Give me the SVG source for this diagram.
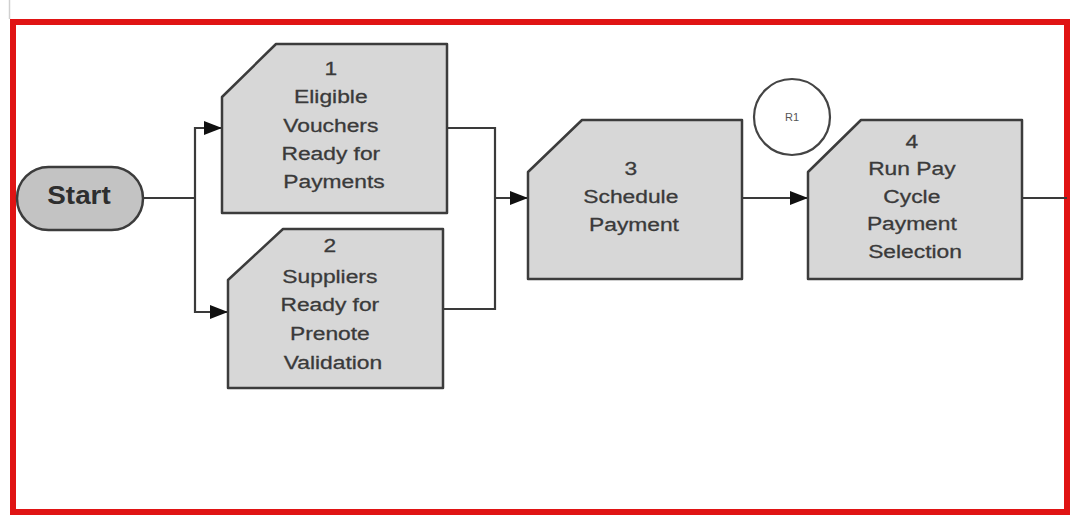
<svg xmlns="http://www.w3.org/2000/svg" width="1070" height="516" viewBox="0 0 1070 516">
  <defs>
    <marker id="arrow" viewBox="0 0 18 14" refX="18" refY="7" markerWidth="18" markerHeight="14" markerUnits="userSpaceOnUse" orient="auto">
      <path d="M0,0 L18,7 L0,14 Z" fill="#111"/>
    </marker>
  </defs>
  <style>
    .frame { fill: #ffffff; stroke: #e01414; stroke-width: 6; }
    .step { fill: #d7d7d7; stroke: #3c3c3c; stroke-width: 2.5; stroke-linejoin: round; }
    .term { fill: #c3c3c3; stroke: #3c3c3c; stroke-width: 2.5; }
    .ref { fill: #ffffff; stroke: #444; stroke-width: 2.2; }
    .label { font-family: "Liberation Sans", Arial, sans-serif; font-size: 19px; fill: #3a3a3a; text-anchor: middle; stroke: #3a3a3a; stroke-width: 0.3; }
    .start { font-family: "Liberation Sans", Arial, sans-serif; font-size: 26px; font-weight: bold; fill: #2e2e2e; text-anchor: middle; }
    .small { font-family: "Liberation Sans", Arial, sans-serif; font-size: 11px; fill: #555; text-anchor: middle; }
    .wire { fill: none; stroke: #3a3a3a; stroke-width: 2.2; }
  </style>

  <rect width="1070" height="516" fill="#ffffff"/>
  <line x1="9.5" y1="0" x2="9.5" y2="19" stroke="#d0d0d0" stroke-width="1.5"/>
  <rect class="frame" x="13" y="22" width="1054" height="490"/>

  <g id="connectors">
    <path class="wire" d="M143,198 H195"/>
    <path class="wire" d="M195,198 V128 H222" marker-end="url(#arrow)"/>
    <path class="wire" d="M195,198 V312 H228" marker-end="url(#arrow)"/>
    <path class="wire" d="M447,128 H495 V309 H443"/>
    <path class="wire" d="M495,198 H528" marker-end="url(#arrow)"/>
    <path class="wire" d="M742,198 H808" marker-end="url(#arrow)"/>
    <path class="wire" d="M1022,198 H1067"/>
  </g>

  <g id="start">
    <rect class="term" x="17" y="167" width="126" height="63" rx="31.5" ry="31.5"/>
    <text class="start" transform="translate(79,0) scale(1.07,1)" x="0" y="204">Start</text>
  </g>

  <g id="step1">
    <path class="step" d="M222,97 L276,44 H447 V213 H222 Z"/>
    <text class="label" transform="translate(334,0) scale(1.2,1)">
      <tspan x="0" y="75">1</tspan>
      <tspan x="0" y="103.5">Eligible</tspan>
      <tspan x="0" y="132">Vouchers</tspan>
      <tspan x="0" y="160">Ready for</tspan>
      <tspan x="0" y="188">Payments</tspan>
    </text>
  </g>

  <g id="step2">
    <path class="step" d="M228,280 L283,229 H443 V388 H228 Z"/>
    <text class="label" transform="translate(333,0) scale(1.2,1)">
      <tspan x="0" y="252">2</tspan>
      <tspan x="0" y="283">Suppliers</tspan>
      <tspan x="0" y="311">Ready for</tspan>
      <tspan x="0" y="340">Prenote</tspan>
      <tspan x="0" y="369">Validation</tspan>
    </text>
  </g>

  <g id="step3">
    <path class="step" d="M528,172 L582,120 H742 V279 H528 Z"/>
    <text class="label" transform="translate(634,0) scale(1.2,1)">
      <tspan x="0" y="175">3</tspan>
      <tspan x="0" y="203">Schedule</tspan>
      <tspan x="0" y="231">Payment</tspan>
    </text>
  </g>

  <g id="ref-r1">
    <circle class="ref" cx="792" cy="117" r="38"/>
    <text class="small" x="792" y="121">R1</text>
  </g>

  <g id="step4">
    <path class="step" d="M808,172 L861,120 H1022 V279 H808 Z"/>
    <text class="label" transform="translate(915,0) scale(1.2,1)">
      <tspan x="0" y="148">4</tspan>
      <tspan x="0" y="175">Run Pay</tspan>
      <tspan x="0" y="203">Cycle</tspan>
      <tspan x="0" y="230">Payment</tspan>
      <tspan x="0" y="258">Selection</tspan>
    </text>
  </g>
</svg>
